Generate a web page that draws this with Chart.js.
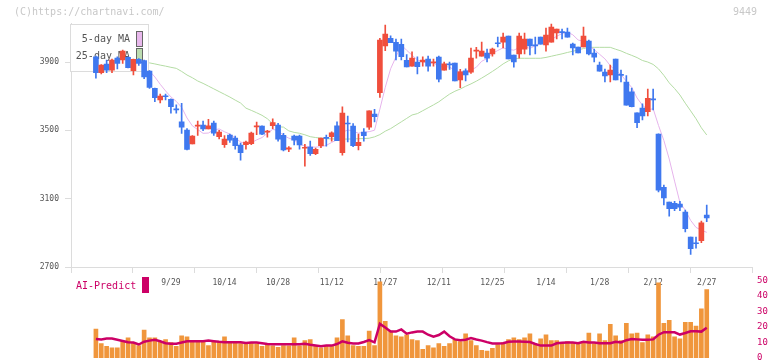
<!DOCTYPE html>
<html>
<head>
<meta charset="utf-8">
<script src="https://cdn.jsdelivr.net/npm/chart.js@4"></script>
<style>
  body { margin: 0; background: #fff; width: 772px; height: 361px; position: relative; overflow: hidden; font-family: "DejaVu Sans Mono", monospace; }
  canvas { position: absolute; left: 0; }
  #price { top: 0; }
  #vol { top: 270px; }
  .txt { position: absolute; white-space: nowrap; line-height: 12px; }
</style>
</head>
<body>
<canvas id="price" width="772" height="300" style="width:772px;height:300px"></canvas>
<canvas id="vol" width="772" height="100" style="width:772px;height:100px"></canvas>
<div class="txt" style="left:14px;top:6px;font-size:10px;color:#c8c8c8">(C)https://chartnavi.com/</div>
<div class="txt" style="left:733px;top:6px;font-size:10px;color:#c8c8c8">9449</div>
<div class="txt" style="left:76px;top:280px;font-size:10px;color:#cc0066">AI-Predict</div>
<div style="position:absolute;left:142px;top:277px;width:7px;height:16px;background:#cc0066"></div>
<script>
// trading days shown on the chart
const dates = [
  '9/5','9/8','9/9','9/10','9/11','9/12','9/16','9/17','9/18','9/19','9/22','9/24','9/25','9/26','9/29','9/30',
  '10/1','10/2','10/3','10/6','10/7','10/8','10/9','10/10','10/14','10/15','10/16','10/17','10/20','10/21','10/22','10/23','10/24','10/27','10/28','10/29','10/30','10/31',
  '11/4','11/5','11/6','11/7','11/10','11/11','11/12','11/13','11/14','11/17','11/18','11/19','11/20','11/21','11/25','11/26','11/27','11/28',
  '12/1','12/2','12/3','12/4','12/5','12/8','12/9','12/10','12/11','12/12','12/15','12/16','12/17','12/18','12/19','12/22','12/23','12/24','12/25','12/26','12/29','12/30',
  '1/5','1/6','1/7','1/8','1/9','1/13','1/14','1/15','1/16','1/19','1/20','1/21','1/22','1/23','1/26','1/27','1/28','1/29','1/30',
  '2/2','2/3','2/4','2/5','2/6','2/9','2/10','2/12','2/13','2/16','2/17','2/18','2/19','2/20','2/24','2/25','2/26','2/27'
];
const labelDates = ['9/29','10/14','10/28','11/12','11/27','12/11','12/25','1/14','1/28','2/12','2/27'];
const priceTicks = [2700, 3100, 3500, 3900];
const volTicks = [0, 10, 20, 30, 40, 50];

const opens = [3931,3837,3888,3853,3923,3912,3927,3849,3916,3908,3847,3746,3678,3700,3682,3625,3550,3502,3420,3525,
  3531,3509,3543,3463,3416,3473,3455,3414,3416,3422,3520,3525,3490,3527,3531,3471,3390,3467,3467,3395,
  3402,3363,3410,3457,3463,3527,3369,3543,3525,3410,3490,3518,3596,3720,3995,4039,4015,4004,3910,3876,
  3900,3900,3918,3895,3929,3853,3890,3894,3795,3849,3840,3964,3935,3953,3947,4013,4017,4052,3941,3947,
  3976,4035,4000,4046,4000,4017,4070,4078,4076,4005,3988,3988,4023,3953,3882,3841,3824,3918,3827,3783,
  3726,3603,3631,3609,3685,3478,3166,3080,3073,3069,3022,2875,2840,2854,3004];
const highs = [3935,3885,3912,3918,3931,3970,3930,3918,3920,3912,3850,3748,3712,3713,3685,3650,3658,3510,3470,3555,
  3555,3565,3555,3500,3470,3478,3467,3425,3437,3490,3549,3527,3500,3568,3541,3482,3405,3473,3473,3418,
  3437,3396,3455,3473,3492,3550,3638,3584,3540,3478,3510,3615,3623,4039,4117,4054,4035,4035,3944,3959,
  3931,3931,3935,3918,3935,3900,3900,3894,3857,3860,3982,3986,4017,3976,3982,4046,4070,4052,3941,4070,
  4070,4035,4046,4046,4099,4123,4093,4093,4099,4011,3988,4105,4029,3976,3900,3859,3882,3918,3853,3820,
  3748,3603,3655,3742,3742,3480,3180,3080,3085,3085,3033,2875,2875,2969,3063];
const lows = [3805,3830,3837,3837,3859,3892,3865,3824,3880,3803,3746,3668,3660,3678,3600,3600,3482,3385,3420,3470,
  3498,3509,3470,3450,3400,3430,3390,3326,3390,3416,3475,3475,3460,3510,3437,3380,3375,3414,3390,3290,
  3353,3357,3398,3408,3437,3439,3355,3433,3405,3385,3437,3505,3550,3693,3966,4013,3912,3912,3871,3876,
  3830,3876,3847,3876,3783,3853,3857,3790,3750,3790,3834,3923,3935,3900,3935,3988,3982,3918,3870,3923,
  3947,3941,3947,4005,3964,4017,4035,4035,4046,3941,3953,3988,3941,3900,3847,3783,3783,3795,3783,3648,
  3637,3515,3561,3584,3619,3140,3063,2998,3030,3030,2905,2774,2810,2842,2965];
const closes = [3837,3882,3853,3912,3892,3964,3867,3916,3892,3813,3752,3691,3701,3697,3638,3620,3518,3389,3467,3530,
  3509,3527,3484,3490,3449,3443,3410,3369,3431,3484,3527,3478,3495,3545,3449,3385,3398,3443,3414,3400,
  3363,3389,3455,3453,3486,3439,3601,3537,3410,3430,3469,3615,3580,4029,4064,4013,3964,3931,3871,3923,
  3873,3912,3876,3900,3800,3890,3883,3790,3843,3824,3923,3968,3964,3923,3976,4007,4046,3918,3900,4052,
  4035,3994,3994,4005,4058,4105,4093,4072,4046,3982,3953,4052,3947,3929,3847,3818,3853,3795,3822,3648,
  3638,3545,3584,3687,3678,3150,3105,3041,3041,3051,2924,2807,2836,2959,2988];
// 25-day moving average (hidden behind the legend before 9/22)
const ma25 = [null,null,null,null,null,null,null,null,null,3900,
  3895,3889,3882,3876,3869,3863,3845,3824,3808,3789,3775,3759,3743,3727,3711,3695,3677,3660,3630,3617,
  3603,3588,3568,3538,3521,3519,3497,3488,3483,3474,3463,3458,3454,3451,3450,3449,3449,3449,3450,3451,
  3452,3454,3462,3475,3495,3510,3530,3550,3570,3590,3598,3615,3632,3649,3667,3690,3712,3729,3742,3758,
  3772,3788,3806,3825,3845,3866,3889,3907,3920,3922,3922,3922,3922,3922,3927,3934,3941,3948,3956,3963,
  3971,3979,3986,3986,3986,3986,3986,3975,3965,3951,3939,3926,3909,3900,3886,3860,3822,3778,3745,3707,
  3659,3614,3568,3515,3473];
const volume = [18.6,9.3,7.5,6.6,6.6,10.6,13,10,8,18,13,13,10.6,11.8,10,7.5,14.3,13.7,11.2,10.6,
  10.6,8,10.6,10.6,13.7,10,10,9.3,10,10.1,9.1,7.5,9,7.8,6.8,8,7.9,13,7.9,11.2,
  11.8,7.9,6.6,7.5,7.5,13,24.8,14.3,8,7.5,7.5,17.4,8,49,23.6,17.4,14.3,13.7,15,11.8,
  11.2,5.6,8,6.6,9.3,7.5,9.3,11.8,10.6,15.5,11.2,8,5,4.4,6.2,8.7,10,11.8,13,11.8,
  13,15.5,8.7,12.4,14.9,11.2,11.2,10,10.6,10,9.3,10,16.1,9.3,15.5,11.2,21.7,14.3,11.2,22.4,
  15.5,16.1,10,14.9,13.7,48.4,22.4,24.2,13.7,12.4,23,23,20.5,31.7,44.1];
const aiPredict = [12.2,12,12.5,12.5,11.8,11,10.2,10,8.7,10.5,11.2,11.8,10.8,9.5,9.2,9.2,10,10.8,10.8,10.8,
  10.8,11.2,10.8,10.4,10.2,10.2,10.2,10.2,9.6,10,10,9.5,9,8.8,8.8,8.8,8.8,8.8,8.8,9.2,
  8.5,8,7.5,8,8,9,10.7,9.8,9.3,9.3,10.3,11.6,10.1,22,19.6,17,17,18.4,15.7,16.5,
  17,17,15,13.7,14.8,17,14,12,11.5,11.8,12.8,11.9,11.2,10.2,9.3,9.3,9.5,10.5,10.7,10.7,
  10.5,10.3,9,8,8,8,9.5,9.8,10,10,9.5,10.5,10,10,9.5,9.5,9.5,10.5,10,11.5,
  12.2,12,11.8,11.8,12,15,16.6,16.6,16.6,15.1,16.1,17.2,17.2,17,19.5];

// 5-day moving average of the closes
const ma5 = closes.map((c, i) => i < 4 ? null : closes.slice(i - 4, i + 1).reduce((a, b) => a + b, 0) / 5);

const UP = '#f04e3c', DOWN = '#3f78ef';
const candleColors = closes.map((c, i) => c >= opens[i] ? UP : DOWN);
const XMIN = -4.65, XMAX = 122.45;
const monoFont = size => ({ family: '"DejaVu Sans Mono", monospace', size: size });
const xy = arr => arr.map((v, i) => ({ x: i, y: v }));

// legend box sits above the MA lines but under the candles
const maLegend = {
  id: 'maLegend',
  afterDatasetDraw(chart, args) {
    if (args.index !== 1) return;
    const ctx = chart.ctx;
    ctx.save();
    ctx.fillStyle = '#fff';
    ctx.fillRect(70.5, 24.5, 78, 47);
    ctx.strokeStyle = '#dcdcdc';
    ctx.lineWidth = 1;
    ctx.strokeRect(70.5, 24.5, 78, 47);
    ctx.font = '10px "DejaVu Sans Mono", monospace';
    ctx.fillStyle = '#555';
    ctx.textAlign = 'right';
    ctx.textBaseline = 'middle';
    ctx.fillText('5-day MA', 130, 39.5);
    ctx.fillText('25-day MA', 130, 56);
    ctx.strokeStyle = '#666';
    ctx.fillStyle = '#e8b8ec';
    ctx.fillRect(136.5, 31.5, 6, 15);
    ctx.strokeRect(136.5, 31.5, 6, 15);
    ctx.fillStyle = '#bcdcb0';
    ctx.fillRect(136.5, 48.5, 6, 14);
    ctx.strokeRect(136.5, 48.5, 6, 14);
    ctx.restore();
  }
};

new Chart(document.getElementById('price'), {
  data: {
    datasets: [
      { type: 'line', label: '25-day MA', data: xy(ma25), xAxisID: 'x', borderColor: '#b4dca4', borderWidth: 1, pointRadius: 0, order: 5 },
      { type: 'line', label: '5-day MA', data: xy(ma5), xAxisID: 'x', borderColor: '#e6b4ec', borderWidth: 1, pointRadius: 0, order: 4 },
      { type: 'bar', label: 'range', data: highs.map((h, i) => ({ x: i, y: [lows[i], h] })), xAxisID: 'x',
        backgroundColor: candleColors, barThickness: 1, grouped: false, borderWidth: 0, order: 2 },
      { type: 'bar', label: 'body', data: opens.map((o, i) => ({ x: i, y: [o, closes[i]] })), xAxisID: 'x',
        backgroundColor: candleColors, barThickness: 5, minBarLength: 1, grouped: false, borderWidth: 0, order: 1 }
    ]
  },
  options: {
    responsive: false,
    animation: false,
    layout: { padding: { left: 0, right: 20, top: 23.6, bottom: 7 } },
    plugins: { legend: { display: false }, tooltip: { enabled: false } },
    scales: {
      xt: {
        type: 'linear', position: 'bottom', min: XMIN, max: XMAX, offset: false,
        afterBuildTicks: s => { s.ticks = Array.from({ length: 12 }, (_, k) => ({ value: XMIN + k * (XMAX - XMIN) / 11 })); },
        ticks: { display: false },
        grid: { drawOnChartArea: false, offset: false, color: '#dcdcdc', tickLength: 6 },
        border: { color: '#dcdcdc' },
        afterFit: s => { s.height = 6; }
      },
      x: {
        type: 'linear', position: 'bottom', min: XMIN, max: XMAX, offset: false,
        afterBuildTicks: s => { s.ticks = labelDates.map(d => ({ value: dates.indexOf(d) })); },
        ticks: { callback: v => dates[v], color: '#555', font: monoFont(8), padding: 5, maxRotation: 0, autoSkip: false },
        grid: { display: false, drawTicks: false, offset: false },
        border: { display: false },
        afterFit: s => { s.height = 20; }
      },
      y: {
        position: 'left', min: 2700, max: 4125,
        afterBuildTicks: s => { s.ticks = priceTicks.map(v => ({ value: v })); },
        ticks: { callback: v => String(v), color: '#555', font: monoFont(8), padding: 6 },
        grid: { drawOnChartArea: false, color: '#dcdcdc', tickLength: 6 },
        border: { color: '#dcdcdc' },
        afterFit: s => { s.width = 71; }
      }
    }
  },
  plugins: [maLegend]
});

new Chart(document.getElementById('vol'), {
  data: {
    datasets: [
      { type: 'line', label: 'AI-Predict', data: xy(aiPredict), borderColor: '#cc0066', borderWidth: 2.5, pointRadius: 0, order: 1 },
      { type: 'bar', label: 'volume', data: xy(volume), backgroundColor: '#f0963c', barThickness: 4, grouped: false, borderWidth: 0, order: 2 }
    ]
  },
  options: {
    responsive: false,
    animation: false,
    layout: { padding: { left: 71, right: 0, top: 7.7, bottom: 12 } },
    plugins: { legend: { display: false }, tooltip: { enabled: false } },
    scales: {
      x: { type: 'linear', min: XMIN, max: XMAX, offset: false, grid: { offset: false }, display: false },
      y: {
        position: 'right', min: 0, max: 50,
        afterBuildTicks: s => { s.ticks = volTicks.map(v => ({ value: v })); },
        ticks: { color: '#cc0066', font: monoFont(9), padding: 5 },
        grid: { display: false, drawTicks: false },
        border: { display: false },
        afterFit: s => { s.width = 20; }
      }
    }
  }
});
</script>
</body>
</html>
